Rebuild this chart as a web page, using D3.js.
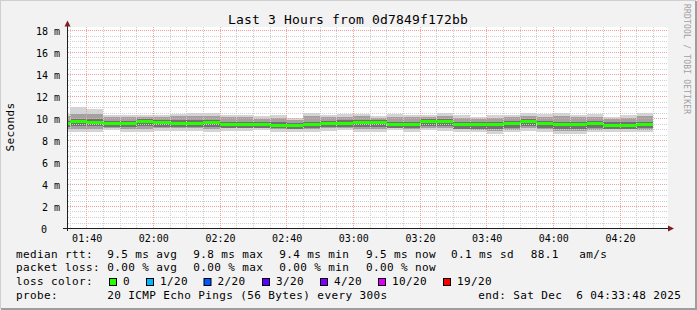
<!DOCTYPE html>
<html>
<head>
<meta charset="UTF-8">
<title>Last 3 Hours from 0d7849f172bb</title>
<script src="https://d3js.org/d3.v7.min.js"></script>
<style>
body { margin: 0; background: #f2f2f2; }
svg { display: block; }
text { font-family: "DejaVu Sans Mono", monospace; fill: #000; }
.legend text { font-size: 11px; letter-spacing: 0.38px; white-space: pre; }
.minor { stroke: #d0d0d0; }
.major { stroke: #f3a0a0; }
</style>
</head>
<body>
<svg width="697" height="310"></svg>
<script>
// 5 minute slots, first one starts 01:30 (only its tail is visible)
var medianRtt = [9.6, 9.75, 9.72, 9.6, 9.6, 9.8, 9.65, 9.6, 9.6, 9.68, 9.5, 9.5, 9.5, 9.45, 9.4, 9.47, 9.6, 9.6,
                 9.65, 9.68, 9.5, 9.5, 9.78, 9.73, 9.47, 9.48, 9.47, 9.6, 9.73, 9.56, 9.47, 9.5, 9.57, 9.44, 9.44, 9.5]
var outerHi = [10.45, 11.05, 10.86, 10.35, 10.33, 10.32, 10.32, 10.45, 10.52, 10.5, 10.32, 10.32, 10.23, 10.3, 10.05, 10.47, 10.32, 10.41,
               10.41, 10.23, 10.41, 10.32, 10.32, 10.47, 10.32, 10.17, 10.28, 10.32, 10.5, 10.41, 10.47, 10.32, 10.41, 10.17, 10.32, 10.52]
var outerLo = [8.8, 8.8, 8.8, 8.92, 8.8, 8.8, 8.89, 8.89, 8.89, 8.8, 8.9, 8.85, 8.95, 8.8, 8.8, 8.8, 8.89, 8.95,
               8.8, 8.8, 8.95, 8.8, 8.95, 8.89, 8.8, 8.74, 8.56, 8.74, 8.89, 8.8, 8.56, 8.56, 8.74, 8.8, 8.8, 8.74]
var midHi = [10.2, 10.45, 10.4, 10.15, 10.15, 10.15, 10.12, 10.2, 10.25, 10.25, 10.1, 10.1, 10.0, 10.05, 9.9, 10.2, 10.1, 10.15,
             10.2, 10.05, 10.15, 10.1, 10.15, 10.2, 10.05, 9.98, 10.05, 10.1, 10.25, 10.15, 10.2, 10.1, 10.15, 9.98, 10.05, 10.25]
var midLo = [9.05, 9.05, 9.05, 9.15, 9.05, 9.08, 9.12, 9.12, 9.12, 9.05, 9.12, 9.1, 9.15, 9.05, 9.02, 9.05, 9.12, 9.15,
             9.05, 9.05, 9.15, 9.05, 9.18, 9.12, 9.05, 9.0, 8.85, 9.0, 9.12, 9.05, 8.85, 8.85, 9.0, 9.05, 9.05, 9.0]
var innerHi = [9.8, 9.95, 9.92, 9.8, 9.8, 9.98, 9.85, 9.82, 9.82, 9.88, 9.72, 9.7, 9.7, 9.68, 9.62, 9.7, 9.8, 9.82,
               9.85, 9.88, 9.72, 9.7, 9.95, 9.95, 9.68, 9.7, 9.7, 9.8, 9.95, 9.78, 9.7, 9.72, 9.78, 9.65, 9.66, 9.72]
var innerLo = [9.2, 9.32, 9.3, 9.22, 9.2, 9.35, 9.25, 9.22, 9.2, 9.25, 9.15, 9.12, 9.15, 9.1, 9.05, 9.1, 9.22, 9.25,
               9.22, 9.25, 9.15, 9.12, 9.35, 9.32, 9.08, 9.08, 9.02, 9.15, 9.3, 9.15, 9.02, 9.05, 9.15, 9.08, 9.05, 9.1]
var coreLo = [9.43, 9.58, 9.55, 9.43, 9.43, 9.63, 9.48, 9.43, 9.43, 9.51, 9.33, 9.33, 9.33, 9.28, 9.23, 9.3, 9.43, 9.43,
              9.48, 9.51, 9.33, 9.33, 9.61, 9.56, 9.3, 9.31, 9.3, 9.43, 9.56, 9.39, 9.3, 9.33, 9.4, 9.27, 9.27, 9.33]

var yTicks = [0, 2, 4, 6, 8, 10, 12, 14, 16, 18]
var xTickLabels = ["01:40", "02:00", "02:20", "02:40", "03:00", "03:20", "03:40", "04:00", "04:20"]

var rttStats = ["9.5 ms avg", "9.8 ms max", "9.4 ms min", "9.5 ms now", "0.1 ms sd", "88.1", "am/s"]
var lossStats = ["0.00 % avg", "0.00 % max", "0.00 % min", "0.00 % now"]
var lossLabels = ["0", "1/20", "2/20", "3/20", "4/20", "10/20", "19/20"]
var lossColors = ["#26ff00", "#00b8ff", "#0059ff", "#5e00ff", "#7e00ff", "#dd00ff", "#ff0000"]
var probeText = "20 ICMP Echo Pings (56 Bytes) every 300s"
var endText = "end: Sat Dec  6 04:33:48 2025"

var svg = d3.select("svg"),
    W = 697, H = 310

function t(h, m, s) { return new Date(2025, 11, 6, h, m, s || 0) }

var x = d3.scaleTime().domain([t(1, 34, 6), t(4, 34, 6)]).range([67, 667])
var y = d3.scaleLinear().domain([0, 18]).range([228.5, 30.5])

// frame
svg.append("rect").attr("width", W).attr("height", H).attr("fill", "#f2f2f2")
svg.append("path").attr("d", "M0,309V0H696").attr("fill", "none").attr("stroke", "#cfcfcf").attr("stroke-width", 2)
svg.append("path").attr("d", "M1,309H696V1").attr("fill", "none").attr("stroke", "#9e9e9e").attr("stroke-width", 2)

svg.append("rect").attr("x", 67).attr("y", 27).attr("width", 601).attr("height", 201.5).attr("fill", "#fff")

svg.append("clipPath").attr("id", "plot")
  .append("rect").attr("x", 67).attr("y", 20).attr("width", 601).attr("height", 210)

var g = svg.append("g").attr("clip-path", "url(#plot)").attr("shape-rendering", "crispEdges")

var slots = medianRtt.map(function(m, i) {
  var s = d3.timeMinute.offset(t(1, 30), 5 * i)
  return { i: i, s: s, e: d3.timeMinute.offset(s, 5), m: m }
})

function band(lo, hi, color) {
  g.append("g").selectAll("rect").data(slots).join("rect")
    .attr("x", function(d) { return x(d.s) })
    .attr("width", function(d) { return x(d.e) - x(d.s) })
    .attr("y", function(d) { return y(hi[d.i]) })
    .attr("height", function(d) { return y(lo[d.i]) - y(hi[d.i]) })
    .attr("fill", color)
}
band(outerLo, outerHi, "#d4d4d4")
band(midLo, midHi, "#a2a2a2")
band(innerLo, innerHi, "#727272")
band(coreLo, medianRtt, "#363636")

// grid over the smoke
var grid = svg.append("g").attr("shape-rendering", "crispEdges").attr("stroke-dasharray", "1,1")
var minorY = d3.range(0, 18.01, 0.5)
grid.selectAll(".hy").data(minorY).join("line")
  .attr("class", function(d) { return Math.round(d * 2) % 4 === 0 ? "major" : "minor" })
  .attr("x1", 68).attr("x2", 668)
  .attr("y1", function(d) { return Math.round(y(d) - 0.5) + 0.5 })
  .attr("y2", function(d) { return Math.round(y(d) - 0.5) + 0.5 })

var minorX = d3.timeMinute.every(5).range(x.domain()[0], x.domain()[1])
grid.selectAll(".vx").data(minorX).join("line")
  .attr("class", function(d) { return d.getMinutes() % 20 === 0 ? "major" : "minor" })
  .attr("x1", function(d) { return Math.floor(x(d)) + 0.5 })
  .attr("x2", function(d) { return Math.floor(x(d)) + 0.5 })
  .attr("y1", 27).attr("y2", 228)

// median, coloured by loss (all 0 here)
svg.append("g").attr("clip-path", "url(#plot)").attr("shape-rendering", "crispEdges")
  .selectAll("rect").data(slots).join("rect")
  .attr("x", function(d) { return x(d.s) })
  .attr("width", function(d) { return x(d.e) - x(d.s) })
  .attr("y", function(d) { return Math.round(y(d.m)) - 1.5 })
  .attr("height", 3)
  .attr("fill", lossColors[0])

// axes
var yAxis = svg.append("g").attr("transform", "translate(67,0)")
  .call(d3.axisLeft(y).tickValues(yTicks).tickSize(0).tickPadding(7)
    .tickFormat(function(d) { return d + " m" }))
yAxis.select(".domain").remove()
yAxis.selectAll("text").attr("font-size", 10).attr("font-family", null).attr("dy", "0.42em").style("fill", "#000")
  .filter(function(d) { return d === 0 }).text("0").attr("x", -20)

var majorX = xTickLabels.map(function(s) { return t(+s.slice(0, 2), +s.slice(3)) })
var xAxis = svg.append("g").attr("transform", "translate(0,228.5)")
  .call(d3.axisBottom(x).tickValues(majorX).tickSize(0).tickPadding(6.5)
    .tickFormat(d3.timeFormat("%H:%M")))
xAxis.select(".domain").remove()
xAxis.selectAll("text").attr("font-size", 10).attr("font-family", null).style("fill", "#000")

svg.append("path").attr("d", "M67.5,231V24").attr("stroke", "#1f1f1f").attr("fill", "none")
svg.append("path").attr("d", "M63,228.5H670").attr("stroke", "#1f1f1f").attr("fill", "none")
svg.append("path").attr("d", "M67.5,20.5L70.5,26.5H64.5Z").attr("fill", "#801f1f")
svg.append("path").attr("d", "M674,228.5L668,225.5V231.5Z").attr("fill", "#801f1f")

// titles
svg.append("text").attr("x", 348).attr("y", 24).attr("text-anchor", "middle")
  .attr("font-size", 13).attr("letter-spacing", 0.17).text("Last 3 Hours from 0d7849f172bb")
svg.append("text").attr("transform", "translate(14,127) rotate(-90)").attr("text-anchor", "middle")
  .attr("font-size", 11).attr("letter-spacing", 0.38).text("Seconds")
svg.append("text").attr("transform", "translate(684,4) rotate(90)")
  .attr("font-size", 8).attr("letter-spacing", 0.2).style("fill", "#a0a0a0").text("RRDTOOL / TOBI OETIKER")

// legend
var lg = svg.append("g").attr("class", "legend")
function put(xp, yp, s) {
  lg.append("text").attr("x", xp).attr("y", yp).attr("xml:space", "preserve").text(s)
}
var statX = [107.3, 193.3, 279.3, 366, 451, 530.7, 579.3]
put(16, 257.5, "median rtt:")
rttStats.forEach(function(s, i) { put(statX[i], 257.5, s) })
put(16, 271, "packet loss:")
lossStats.forEach(function(s, i) { put(statX[i], 271, s) })
put(16, 285, "loss color:")
var boxX = [109, 146, 203.5, 262, 320, 378, 443]
lossLabels.forEach(function(s, i) {
  lg.append("rect").attr("x", boxX[i] + 0.5).attr("y", 278.5).attr("width", 7).attr("height", 7)
    .attr("fill", lossColors[i]).attr("stroke", "#000")
  put(boxX[i] + 14, 285, s)
})
put(16, 298.5, "probe:")
put(107.3, 298.5, probeText)
put(478.3, 298.5, endText)
</script>
</body>
</html>
